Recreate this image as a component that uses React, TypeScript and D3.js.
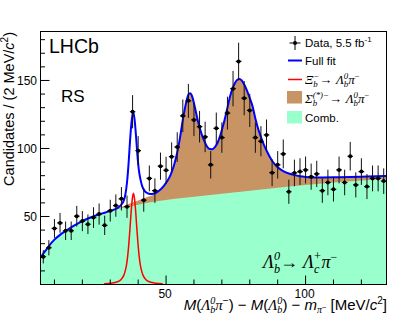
import React from "react";
import * as d3 from "d3";

// bin centres (2 MeV bins) and yields
const binCenters = [
  6, 8, 10, 12, 14, 16, 18, 20, 22, 24, 26, 28, 30, 32, 34, 36, 38, 40, 42, 44,
  46, 48, 50, 52, 54, 56, 58, 60, 62, 64, 66, 68, 70, 72, 74, 76, 78, 80, 82, 84,
  86, 88, 90, 92, 94, 96, 98, 100, 102, 104, 106, 108, 110, 112, 114, 116, 118,
  120, 122, 124, 126, 128,
];
const counts = [
  20.4, 27, 41.2, 45.3, 39.5, 39.5, 50.2, 46.6, 44.3, 49.2, 51.8, 43.5, 54.3, 58,
  63, 57.2, 127, 98.4, 62, 78, 69, 87, 84, 94, 101, 124, 135, 121, 116, 108.5, 88,
  114.8, 108, 126, 144, 164, 137, 128, 108, 105.3, 110, 82.2, 88, 96, 68.2, 82, 83,
  84.2, 79.3, 81.3, 69, 75, 70, 84.2, 75, 94.3, 73.2, 83, 72, 78, 78, 76,
];
const errors = [
  4.9, 5.6, 6.9, 7.3, 6.8, 6.8, 7.6, 7.4, 7.2, 7.6, 7.8, 7.1, 8, 8.2, 8.6, 8.2,
  12.2, 10.7, 8.5, 9.5, 9, 10, 9.9, 10.5, 10.9, 12, 12.5, 11.9, 11.6, 11.2, 10.1,
  11.6, 11.2, 12.1, 13, 13.8, 12.6, 12.2, 11.2, 11.1, 11.3, 9.8, 10.1, 10.6, 8.9,
  9.8, 9.8, 9.9, 9.6, 9.7, 9, 9.4, 9, 9.9, 9.4, 10.5, 9.2, 9.8, 9.2, 9.5, 9.5, 9.4,
];

// fit curves, sampled by eye: [x, y]
const fullFit: [number, number][] = [
  [5, 19.8], [6, 22.8], [7, 25.5], [8, 28.3], [10, 33], [12, 36.5], [14, 39.4],
  [16, 42], [18, 44.4], [20, 46.6], [22, 48.5], [24, 50.1], [26, 51.6], [28, 52.8],
  [30, 54.1], [32, 55.6], [33, 56.8], [34, 58.8], [34.8, 61.5], [35.4, 66], [36, 75],
  [36.6, 90], [37.1, 106], [37.6, 119], [38.2, 127], [38.7, 121.5], [39.2, 110],
  [39.7, 96], [40.2, 85], [40.8, 77.5], [41.5, 72], [42.3, 68.8], [43.3, 67.2],
  [44.3, 66.6], [45.5, 66.8], [46.7, 67.8], [48, 69.8], [49.2, 72.5], [50.5, 76.2],
  [51.7, 81], [52.9, 88], [54, 97], [55, 108], [56, 121], [57, 132], [58, 139.5],
  [58.6, 140.6], [59.4, 138], [60.2, 131.5], [61, 124], [61.8, 117], [62.6, 111.5],
  [63.5, 106.5], [64.5, 102], [65.6, 99.6], [66.6, 99.5], [67.5, 101], [68.4, 104],
  [69.3, 108.7], [70.2, 115], [71.1, 122], [72, 130], [72.9, 138], [73.8, 144],
  [74.7, 148.2], [75.5, 150.5], [76.3, 151], [77.1, 150], [78, 147], [79, 142.5],
  [80, 137], [81, 131], [82, 122], [83, 114.5], [84, 108.5], [85, 103], [86, 98.5],
  [87, 94.5], [88, 91], [89, 88.3], [90, 86.2], [92, 83.4], [94, 81.6], [96, 80.4],
  [98, 79.6], [100, 79.1], [104, 78.7], [110, 78.8], [116, 79], [122, 79.4], [129, 79.8],
];
const sigmaTop: [number, number][] = [
  [28, 52.7], [30, 54], [32, 55.5], [34, 57], [36, 58.6], [38, 60.2], [40, 61.8],
  [42, 63.3], [44, 64.8], [45.5, 66], [46.7, 67.5], [48, 69.6], [49.2, 72.3],
  [50.5, 76], [51.7, 81], [52.9, 88], [54, 97], [55, 108], [56, 121], [57, 132],
  [58, 139.5], [58.6, 140.6], [59.4, 138], [60.2, 131.5], [61, 124], [61.8, 117],
  [62.6, 111.5], [63.5, 106.5], [64.5, 102], [65.6, 99.6], [66.6, 99.5], [67.5, 101],
  [68.4, 104], [69.3, 108.7], [70.2, 115], [71.1, 122], [72, 130], [72.9, 138],
  [73.8, 144], [74.7, 148.2], [75.5, 150.5], [76.3, 151], [77.1, 150], [78, 147],
  [79, 142.5], [80, 137], [81, 131], [82, 122], [83, 114.5], [84, 108.5], [85, 103],
  [86, 98.5], [87, 94.5], [88, 91], [89, 88.3], [90, 86.2], [92, 83.4], [94, 81.6],
  [96, 80.4], [98, 79.6], [100, 79.1], [104, 78.7], [110, 78.8], [116, 79],
  [122, 79.4], [129, 79.8],
];
const combFit: [number, number][] = [
  [5, 19.5], [6, 22.5], [7, 25.3], [8, 28.1], [10, 32.8], [12, 36.4], [14, 39.3],
  [16, 41.9], [18, 44.3], [20, 46.5], [22, 48.3], [24, 50], [26, 51.4], [28, 52.7],
  [30, 53.8], [34, 56], [38, 57.8], [42, 59.5], [46, 61], [50, 62.2], [55, 63.5],
  [60, 64.6], [70, 66.8], [80, 69], [90, 71.2], [100, 73.2], [110, 75], [120, 76.5],
  [129, 77.6],
];
const xiFit: [number, number][] = [
  [27.8, 0.5], [30.3, 1], [32.3, 1.8], [33.8, 3.5], [34.8, 6.5], [35.3, 9.5],
  [35.8, 14], [36.3, 22], [36.7, 31], [37.1, 42], [37.5, 54], [37.9, 63], [38.3, 67],
  [38.7, 63], [39.1, 54], [39.5, 42], [39.9, 31], [40.3, 22], [40.8, 14], [41.3, 9.5],
  [41.8, 6.5], [42.8, 3.5], [44.3, 1.8], [46.3, 1], [48.8, 0.5],
];

const yMajor = [50, 100, 150];
const yMinor = [10, 20, 30, 40, 60, 70, 80, 90, 110, 120, 130, 140, 160, 170, 180];
const xMajor = [50, 100];
const xMinor = [10, 20, 30, 40, 60, 70, 80, 90, 110, 120];

const SANS = "'Liberation Sans', Arial, Helvetica, sans-serif";
const SERIF = "'Liberation Serif', 'Times New Roman', serif";
const BLUE = "#0000ff";
const RED = "#ff0000";
const BROWN = "#c99463";
const GREEN = "#99ffcc";

const L = 40.5, R = 386.5, T = 31.5, B = 284.5;

// symbol with stacked sub/superscript
function SubSup({ base, sub, sup, fs, subShift = 0.25, italicBase = true }: any) {
  const s = fs * 0.68;
  return (
    <>
      <tspan fontStyle={italicBase ? "italic" : "normal"}>{base}</tspan>
      <tspan fontSize={s} baselineShift={-fs * subShift} fontStyle="italic">{sub}</tspan>
      {sup ? (
        <tspan fontSize={s} dx={-s * 0.5 * sub.length} baselineShift={fs * 0.42} fontStyle="italic">
          {sup}
        </tspan>
      ) : null}
    </>
  );
}

export default function App() {
  const x = d3.scaleLinear().domain([5, 129]).range([L, R]);
  const y = d3.scaleLinear().domain([0, 186]).range([B, T]);

  const line = d3.line<[number, number]>().x((d) => x(d[0])).y((d) => y(d[1])).curve(d3.curveMonotoneX);
  const area = d3.area<[number, number]>().x((d) => x(d[0])).y0(B).y1((d) => y(d[1])).curve(d3.curveMonotoneX);

  return (
    <svg width={407} height={316} style={{ position: "absolute", left: 0, top: 0 }}>
      <rect x={0} y={0} width={407} height={316} fill="#fff" />
      <clipPath id="frame">
        <rect x={L} y={T} width={R - L} height={B - T} />
      </clipPath>
      <g clipPath="url(#frame)">
        <path d={area(sigmaTop) || ""} fill={BROWN} />
        <path d={area(combFit) || ""} fill={GREEN} />
        <path d={line(xiFit) || ""} fill="none" stroke={RED} strokeWidth={1.5} />
        <path d={line(fullFit) || ""} fill="none" stroke={BLUE} strokeWidth={2} />
        {binCenters.map((c, i) => (
          <g key={c}>
            <line x1={x(c)} x2={x(c)} y1={y(counts[i] - errors[i])} y2={y(counts[i] + errors[i])} stroke="#111" strokeWidth={1} />
            <line x1={x(c - 1)} x2={x(c + 1)} y1={y(counts[i])} y2={y(counts[i])} stroke="#000" strokeWidth={1.2} />
            <circle cx={x(c)} cy={y(counts[i])} r={2} fill="#000" />
          </g>
        ))}
      </g>
      <rect x={L} y={T} width={R - L} height={B - T} fill="none" stroke="#000" strokeWidth={1} />

      {/* y axis */}
      {yMajor.map((v) => (
        <g key={v}>
          <line x1={L} x2={L + 9} y1={y(v)} y2={y(v)} stroke="#000" />
          <text x={37} y={y(v) + 4.3} textAnchor="end" fontFamily={SANS} fontSize={12}>{v}</text>
        </g>
      ))}
      {yMinor.map((v) => (
        <line key={v} x1={L} x2={L + 4.5} y1={y(v)} y2={y(v)} stroke="#000" />
      ))}
      {/* x axis */}
      {xMajor.map((v) => (
        <g key={v}>
          <line x1={x(v)} x2={x(v)} y1={B} y2={B - 9} stroke="#000" />
          <text x={x(v) - 1} y={297.5} textAnchor="middle" fontFamily={SANS} fontSize={12}>{v}</text>
        </g>
      ))}
      {xMinor.map((v) => (
        <line key={v} x1={x(v)} x2={x(v)} y1={B} y2={B - 5} stroke="#000" />
      ))}

      {/* axis titles */}
      <text x={387} y={309.5} textAnchor="end" fontFamily={SANS} fontSize={15}>
        <tspan fontStyle="italic">M</tspan>(
        <tspan fontFamily={SERIF}><SubSup base="Λ" sub="b" sup="0" fs={15} subShift={0.18} /></tspan>
        <tspan fontFamily={SERIF} fontStyle="italic">π</tspan>
        <tspan fontSize={10} baselineShift={6.5}>−</tspan>) − <tspan fontStyle="italic">M</tspan>(
        <tspan fontFamily={SERIF}><SubSup base="Λ" sub="b" sup="0" fs={15} subShift={0.18} /></tspan>) − <tspan fontStyle="italic">m</tspan>
        <tspan fontSize={10} baselineShift={-2.8} fontFamily={SERIF} fontStyle="italic">π</tspan>
        <tspan fontSize={7.5} baselineShift={0}>−</tspan> [MeV/<tspan fontStyle="italic">c</tspan>
        <tspan fontSize={10} baselineShift={6.5}>2</tspan>]
      </text>
      <text transform="translate(14,32) rotate(-90)" textAnchor="end" fontFamily={SANS} fontSize={14.5}>
        Candidates / (2 MeV/<tspan fontStyle="italic">c</tspan>
        <tspan fontSize={10} baselineShift={6}>2</tspan>)
      </text>

      {/* labels */}
      <text x={49} y={52.5} fontFamily={SANS} fontSize={19.5}>LHCb</text>
      <text x={61} y={101.7} fontFamily={SANS} fontSize={17}>RS</text>
      <text x={263} y={268} fontFamily={SERIF} fontSize={18}>
        <SubSup base="Λ" sub="b" sup="0" fs={18} />
        <tspan fontFamily={SANS} fontStyle="normal">→ </tspan>
        <SubSup base="Λ" sub="c" sup="+" fs={18} />
        <tspan fontStyle="italic">π</tspan>
        <tspan fontSize={12} baselineShift={7.5}>−</tspan>
      </text>

      {/* legend */}
      <g>
        <line x1={295} x2={295} y1={36} y2={50} stroke="#000" />
        <line x1={289.5} x2={300.5} y1={43} y2={43} stroke="#000" />
        <circle cx={295} cy={43} r={2} fill="#000" />
        <text x={305} y={47} fontFamily={SANS} fontSize={11.5}>
          Data, 5.5 fb<tspan fontSize={8} baselineShift={5}>-1</tspan>
        </text>
        <line x1={288} x2={302} y1={60.5} y2={60.5} stroke={BLUE} strokeWidth={2} />
        <text x={305} y={65} fontFamily={SANS} fontSize={11.5}>Full fit</text>
        <line x1={288} x2={302} y1={79.5} y2={79.5} stroke={RED} strokeWidth={1.5} />
        <text x={305} y={84} fontFamily={SERIF} fontSize={13}>
          <SubSup base="Ξ" sub="b" sup="−" fs={13} />
          <tspan fontFamily={SANS}>→ </tspan>
          <SubSup base="Λ" sub="b" sup="0" fs={13} />
          <tspan fontStyle="italic">π</tspan>
          <tspan fontSize={8.5} baselineShift={5.5}>−</tspan>
        </text>
        <rect x={287} y={91} width={15} height={12.5} fill={BROWN} />
        <text x={305} y={102.5} fontFamily={SERIF} fontSize={13}>
          <SubSup base="Σ" sub="b" sup="(*)−" fs={13} />
          <tspan fontFamily={SANS}>→ </tspan>
          <SubSup base="Λ" sub="b" sup="0" fs={13} />
          <tspan fontStyle="italic">π</tspan>
          <tspan fontSize={8.5} baselineShift={5.5}>−</tspan>
        </text>
        <rect x={287} y={111} width={15} height={12.5} fill={GREEN} />
        <text x={305} y={121.5} fontFamily={SANS} fontSize={11.5}>Comb.</text>
      </g>
    </svg>
  );
}
